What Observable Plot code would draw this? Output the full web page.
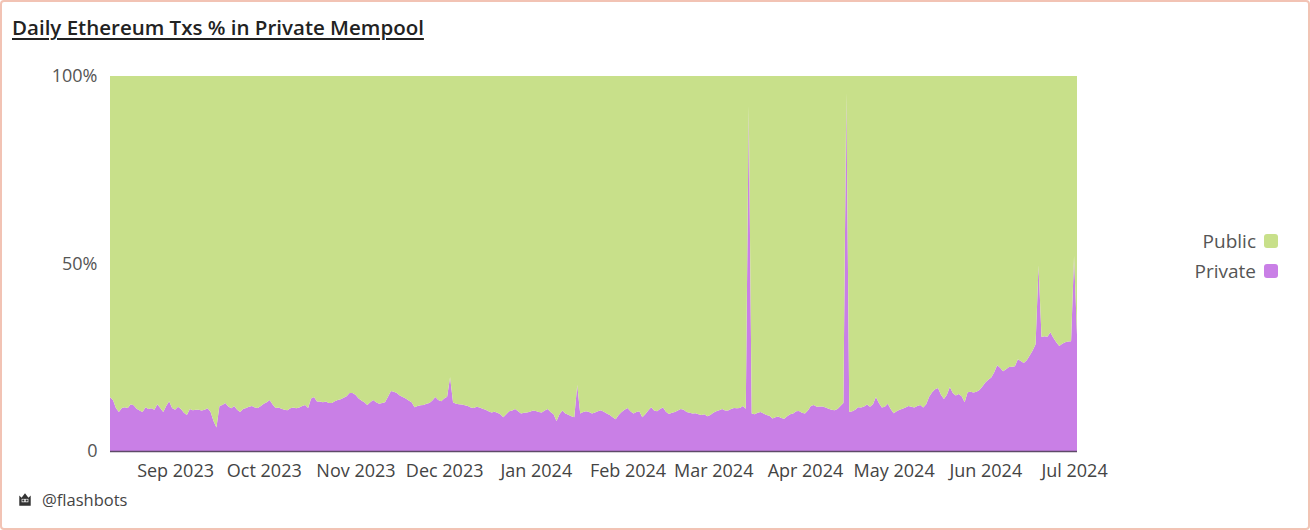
<!DOCTYPE html>
<html>
<head>
<meta charset="utf-8">
<script src="https://cdn.jsdelivr.net/npm/d3@7"></script>
<script src="https://cdn.jsdelivr.net/npm/@observablehq/plot@0.6"></script>
<style>
  html, body { margin: 0; padding: 0; background: #fff; }
  body { position: relative; width: 1310px; height: 530px; overflow: hidden; font-family: "Open Sans", sans-serif; }
  #border { position: absolute; left: 0; top: 0; width: 1310px; height: 530px; box-sizing: border-box; border: 2px solid #f2c3b4; border-radius: 4px; pointer-events: none; }
  #title { position: absolute; left: 12px; top: 13px; font-size: 20.5px; font-weight: 600; color: #222; text-decoration: underline; text-underline-offset: 3px; text-decoration-thickness: 1.5px; white-space: nowrap; }
  #chart { position: absolute; left: 0; top: 50px; }
  .leg { position: absolute; right: 32px; display: flex; align-items: center; gap: 8px; font-size: 19px; color: #555; }
  .sw { width: 14px; height: 14px; border-radius: 3px; display: inline-block; }
  #footer { position: absolute; left: 17px; top: 488px; display: flex; align-items: center; gap: 9px; font-size: 16.5px; color: #444; }
</style>
</head>
<body>
<div id="title">Daily Ethereum Txs % in Private Mempool</div>
<div id="chart"></div>
<div id="legend"></div>
<div id="footer">
  <svg width="16" height="16" viewBox="0 0 14 14">
    <path d="M2 3 L4 5 L7 1 L10 5 L12 3 L12 12 L2 12 Z" fill="#333"/>
    <rect x="4" y="6" width="6" height="3" fill="#ddd"/>
    <circle cx="5.5" cy="7.5" r="0.9" fill="#333"/><circle cx="8.5" cy="7.5" r="0.9" fill="#333"/>
  </svg>
  <span>@flashbots</span>
</div>
<div id="border"></div>
<script>
// ---- data ----
const startDate = "2023-08-10"; // first day of the series (daily)
const seriesNames = ["Public", "Private"];
const seriesColors = ["#c8e08a", "#c97fe6"];
const yTicks = [0, 50, 100];
const yTickLabels = ["0", "50%", "100%"];
// daily share (%) of Ethereum txs sent via private mempool
const privatePct = [
  14.4,13.6,11.5,10.4,11.5,11.7,11.5,12.5,12.2,11.3,
  10.8,10.4,11.7,11.2,11.4,11.0,12.5,11.5,10.4,12.0,
  13.3,11.5,11.0,11.8,11.2,10.2,9.6,11.2,10.9,11.0,
  11.0,10.8,11.0,11.4,10.5,8.0,6.3,12.0,12.3,12.8,
  11.9,11.4,12.0,11.0,10.4,11.2,11.5,11.8,12.0,11.6,
  11.5,12.0,12.6,13.0,13.6,12.4,11.5,11.6,11.3,11.0,
  10.9,11.4,11.6,11.4,11.6,12.0,12.3,11.5,14.0,14.4,
  13.2,13.2,13.0,13.2,12.8,12.8,13.3,13.6,13.8,14.2,
  14.6,15.5,15.5,15.0,14.1,13.5,13.0,12.3,13.0,13.6,
  13.0,12.6,12.8,13.0,14.5,16.0,15.8,15.5,14.8,14.4,
  14.0,13.5,13.0,11.7,12.0,12.2,12.3,12.6,12.8,13.5,
  14.4,13.6,13.3,14.0,14.5,19.7,13.0,12.6,12.5,12.4,
  12.2,12.0,11.6,11.5,11.8,11.6,11.3,11.0,10.6,10.3,
  10.5,10.2,9.8,9.0,9.8,10.6,10.8,11.2,10.6,10.0,
  10.2,10.3,10.5,10.8,10.7,10.4,10.3,10.8,11.2,10.4,
  9.8,8.0,9.8,10.8,10.0,9.7,9.3,9.0,17.6,10.0,
  10.4,10.6,10.4,10.0,10.3,10.6,10.9,10.5,10.0,9.6,
  9.0,8.5,9.6,10.4,11.0,11.5,10.6,10.0,10.4,10.6,
  9.0,9.8,10.8,11.7,10.8,10.6,11.2,11.6,10.5,9.9,
  10.2,10.4,10.8,11.2,11.0,10.4,10.2,10.0,10.1,9.8,
  9.6,9.8,9.3,9.6,10.2,10.6,10.9,11.2,10.8,10.8,
  11.2,11.5,11.4,11.5,12.0,11.3,92.0,10.0,9.8,10.2,
  10.4,10.0,9.6,9.4,8.7,9.0,9.2,8.8,8.6,9.3,
  9.8,10.0,10.6,10.7,10.2,10.0,10.8,12.0,12.3,11.8,
  11.9,11.9,11.6,11.3,11.0,10.9,11.2,12.0,12.8,95.5,
  10.4,10.6,11.0,11.7,11.6,11.9,12.4,11.8,12.5,14.4,
  12.8,11.6,11.8,12.6,11.2,10.1,10.6,11.0,11.3,11.6,
  12.0,11.8,11.6,12.0,12.3,11.6,12.5,14.5,15.7,16.5,
  16.8,15.0,13.9,15.0,17.1,15.5,14.8,15.2,14.6,13.0,
  15.7,15.8,15.6,15.8,16.3,17.2,18.3,19.0,19.6,21.0,
  22.9,22.2,21.3,21.8,22.4,22.5,22.6,24.5,24.0,23.5,
  24.2,25.5,26.8,28.5,49.5,30.4,30.6,30.5,31.7,30.2,
  29.0,28.0,28.6,29.0,29.2,29.3,52.0,31.0
];

// ---- build long table ----
const t0 = new Date(startDate + "T00:00:00Z");
const dates = privatePct.map((_, i) => d3.utcDay.offset(t0, i));
const table = [];
privatePct.forEach((p, i) => {
  table.push({date: dates[i], series: "Private", value: p});
  table.push({date: dates[i], series: "Public", value: 100 - p});
});

const chart = Plot.plot({
  width: 1150,
  height: 441,
  marginLeft: 110,
  marginRight: 73,
  marginTop: 26,
  marginBottom: 40,
  style: {fontFamily: "'Open Sans', sans-serif", fontSize: "18px", color: "#555", background: "transparent"},
  x: {type: "utc", domain: [dates[0], dates[dates.length - 1]]},
  y: {domain: [0, 100]},
  color: {domain: seriesNames, range: seriesColors},
  marks: [
    Plot.areaY(table, {x: "date", y: "value", fill: "series", order: ["Private", "Public"]}),
    Plot.ruleY([0], {stroke: "#5e4a68", strokeWidth: 1.5}),
    Plot.axisY({ticks: yTicks, tickFormat: d => yTickLabels[yTicks.indexOf(d)], tickSize: 0, tickPadding: 13, label: null, fill: "#555", fontSize: 18}),
    Plot.axisX({ticks: d3.utcMonth, tickFormat: d3.utcFormat("%b %Y"), tickSize: 0, tickPadding: 13, label: null, fill: "#444", fontSize: 18})
  ]
});
document.getElementById("chart").appendChild(chart);

// ---- legend ----
const legend = document.getElementById("legend");
const legendTops = [228, 258];
seriesNames.forEach((name, i) => {
  const row = document.createElement("div");
  row.className = "leg";
  row.style.top = legendTops[i] + "px";
  row.innerHTML = `<span>${name}</span><span class="sw" style="background:${seriesColors[i]}"></span>`;
  legend.appendChild(row);
});
</script>
</body>
</html>
